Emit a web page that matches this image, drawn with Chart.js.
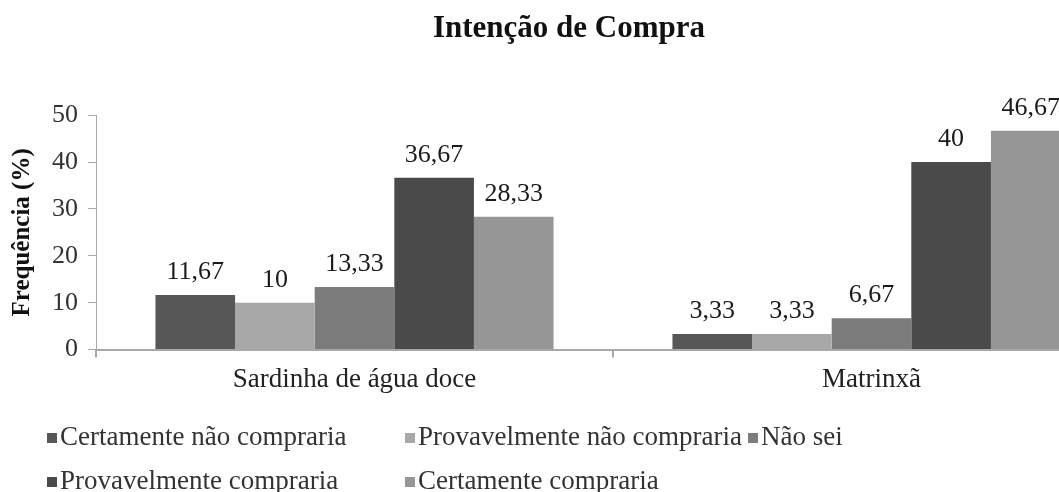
<!DOCTYPE html>
<html>
<head>
<meta charset="utf-8">
<script src="https://cdn.jsdelivr.net/npm/chart.js@4/dist/chart.umd.min.js"></script>
<style>
  html, body { margin: 0; padding: 0; overflow: hidden; background: #fff; }
  #wrap { width: 1130px; height: 492px; }
</style>
</head>
<body>
<div id="wrap"><canvas id="myChart" width="1130" height="492"></canvas></div>
<script>
// Chart data
const categories = ['Sardinha de água doce', 'Matrinxã'];
const seriesNames = ['Certamente não compraria', 'Provavelmente não compraria', 'Não sei', 'Provavelmente compraria', 'Certamente compraria'];
const certNao = [11.67, 3.33];
const provNao = [10, 3.33];
const naoSei = [13.33, 6.67];
const provSim = [36.67, 40];
const certSim = [28.33, 46.67];
const yTicks = [0, 10, 20, 30, 40, 50];

const colors = ['#575757', '#a8a8a8', '#7c7c7c', '#4a4a4a', '#969696'];
const serif = "'Liberation Serif', 'Times New Roman', serif";

// Format numbers with a comma as decimal separator
function fmt(v) {
    return String(v).replace('.', ',');
}

// Value labels above each bar
const barLabels = {
    id: 'barLabels',
    afterDatasetsDraw(chart) {
        const ctx = chart.ctx;
        ctx.save();
        ctx.font = '26px ' + serif;
        ctx.fillStyle = '#1a1a1a';
        ctx.textAlign = 'center';
        ctx.textBaseline = 'bottom';
        chart.data.datasets.forEach((ds, i) => {
            chart.getDatasetMeta(i).data.forEach((bar, j) => {
                ctx.fillText(fmt(ds.data[j]), bar.x, bar.y - 10);
            });
        });
        ctx.restore();
    }
};

// Legend laid out in columns like the original
const columnLegend = {
    id: 'columnLegend',
    afterDraw(chart) {
        const ctx = chart.ctx;
        const spots = [[47, 438], [405, 438], [748, 438], [47, 482], [405, 482]];
        ctx.save();
        ctx.font = '27px ' + serif;
        ctx.textBaseline = 'middle';
        chart.data.datasets.forEach((ds, i) => {
            const [x, y] = spots[i];
            ctx.fillStyle = ds.backgroundColor;
            ctx.fillRect(x, y - 5, 10, 10);
            ctx.fillStyle = '#333';
            ctx.fillText(ds.label, x + 13, y);
        });
        ctx.restore();
    }
};

const seriesData = [certNao, provNao, naoSei, provSim, certSim];

const ctx = document.getElementById('myChart').getContext('2d');
const chart = new Chart(ctx, {
    type: 'bar',
    data: {
        labels: categories,
        datasets: seriesNames.map((name, i) => ({
            label: name,
            data: seriesData[i],
            backgroundColor: colors[i],
            categoryPercentage: 0.77,
            barPercentage: 1
        }))
    },
    options: {
        responsive: false,
        animation: false,
        layout: { padding: { left: 8, right: 0, top: 0, bottom: 90 } },
        plugins: {
            legend: { display: false },
            tooltip: { enabled: false },
            title: {
                display: true,
                text: 'Intenção de Compra',
                color: '#111',
                font: { family: serif, size: 31, weight: 'bold' },
                padding: { top: 10, bottom: 68 }
            }
        },
        scales: {
            x: {
                grid: { drawOnChartArea: false, tickLength: 8, color: '#a8a8a8', lineWidth: 2 },
                border: { color: '#a8a8a8', width: 2 },
                ticks: { color: '#222', font: { family: serif, size: 27 }, padding: 6 }
            },
            y: {
                min: 0,
                max: 50,
                afterBuildTicks(scale) {
                    scale.ticks = yTicks.map(v => ({ value: v }));
                },
                afterFit(scale) {
                    scale.width = 88;
                },
                grid: { drawOnChartArea: false, tickLength: 8, color: '#a8a8a8', lineWidth: 1 },
                border: { color: '#a8a8a8', width: 1 },
                ticks: { color: '#333', font: { family: serif, size: 26 }, padding: 10 },
                title: {
                    display: true,
                    text: 'Frequência (%)',
                    color: '#111',
                    font: { family: serif, size: 25, weight: 'bold' },
                    padding: 0
                }
            }
        }
    },
    plugins: [barLabels, columnLegend]
});
</script>
</body>
</html>
